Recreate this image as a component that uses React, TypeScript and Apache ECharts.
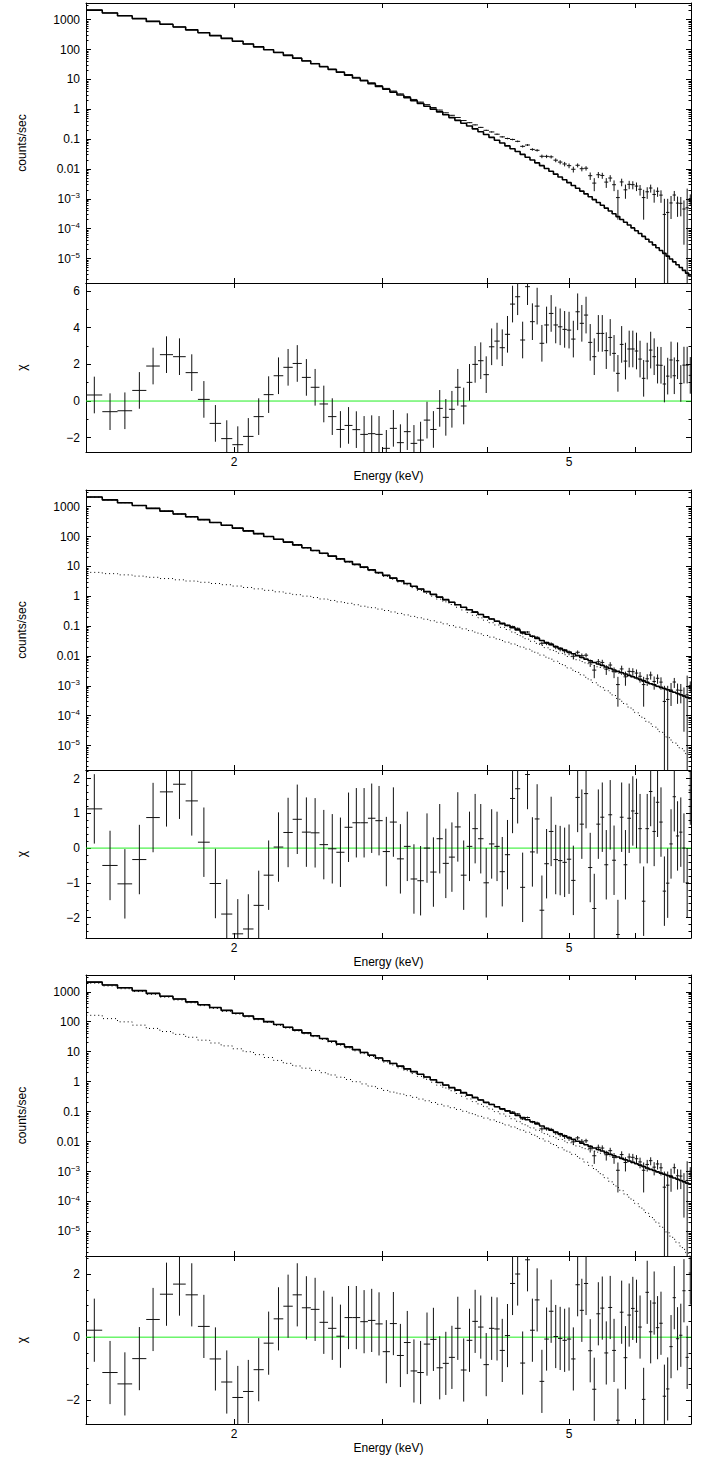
import React, { useEffect, useRef } from "react";
import * as echarts from "echarts";

// ---------- data ----------
const ENERGY_KEV = [
  1.365, 1.425, 1.484, 1.544, 1.603, 1.663, 1.723, 1.782, 1.842, 1.901,
  1.961, 2.021, 2.08, 2.14, 2.199, 2.259, 2.319, 2.378, 2.438, 2.497,
  2.557, 2.617, 2.676, 2.736, 2.795, 2.855, 2.915, 2.974, 3.034, 3.093,
  3.153, 3.213, 3.272, 3.332, 3.391, 3.451, 3.511, 3.57, 3.63, 3.689,
  3.749, 3.809, 3.868, 3.928, 3.987, 4.047, 4.107, 4.166, 4.226, 4.285,
  4.345, 4.405, 4.464, 4.524, 4.583, 4.643, 4.703, 4.762, 4.822, 4.881,
  4.941, 5.001, 5.06, 5.12, 5.179, 5.239, 5.299, 5.358, 5.418, 5.477,
  5.537, 5.597, 5.656, 5.716, 5.775, 5.835, 5.895, 5.954, 6.014, 6.073,
  6.133, 6.193, 6.252, 6.312, 6.371, 6.431, 6.491, 6.55, 6.61, 6.669,
  6.729, 6.789, 6.848, 6.908, 6.967,
];
const BIN_HALF_WIDTH_KEV = 0.0298;

const DATA_RATE = [
  2106, 1693, 1362, 1096, 882, 710, 572, 460, 369, 297,
  238, 191, 154, 125, 100.4, 81.0, 65.4, 52.6, 42.5, 34.3,
  27.5, 22.2, 17.9, 14.5, 11.75, 9.5, 7.69, 6.22, 5.0, 4.08,
  3.28, 2.67, 2.13, 1.74, 1.43, 1.145, 0.94, 0.761, 0.628, 0.53,
  0.419, 0.356, 0.3, 0.247, 0.197, 0.174, 0.146, 0.119, 0.105, 0.0974,
  0.0842, 0.0573, 0.0635, 0.0452, 0.0422, 0.0266, 0.0264, 0.0255, 0.0197, 0.017,
  0.0147, 0.0129, 0.00978, 0.0133, 0.0102, 0.0106, 0.00596, 0.00336, 0.00642, 0.00607,
  0.00363, 0.00497, 0.00297, 0.0011, 0.00368, 0.002, 0.00305, 0.00298, 0.00267, 0.00209,
  0.0011, 0.00172, 0.0023, 0.0014, 0.00179, 0.00133, 0.0003, 0.00035, 0.000727, 0.00134,
  0.00072, 0.000706, 0.000456, 0.0005, 0.00102,
];
const DATA_ERR = [
  0.92, 0.82, 0.74, 0.66, 0.59, 0.53, 0.48, 0.43, 0.38, 0.34,
  0.31, 0.28, 0.25, 0.22, 0.2, 0.18, 0.16, 0.145, 0.13, 0.117,
  0.105, 0.094, 0.085, 0.076, 0.068, 0.061, 0.055, 0.05, 0.045, 0.04,
  0.036, 0.033, 0.029, 0.027, 0.024, 0.022, 0.0193, 0.01754, 0.0159, 0.01444,
  0.0131, 0.01192, 0.01084, 0.00988, 0.00908, 0.00832, 0.00764, 0.00704, 0.00651, 0.00596,
  0.00547, 0.00502, 0.00463, 0.00428, 0.00394, 0.00364, 0.00334, 0.0031, 0.00288, 0.00268,
  0.00251, 0.00233, 0.00217, 0.00203, 0.00188, 0.00177, 0.00166, 0.00156, 0.00147, 0.00139,
  0.00131, 0.00123, 0.00116, 0.0009, 0.00105, 0.000996, 0.000947, 0.000899, 0.000853, 0.00081,
  0.0009, 0.000724, 0.000687, 0.000657, 0.000623, 0.000595, 0.0007, 0.00065, 0.000516, 0.000493,
  0.000471, 0.000447, 0.000427, 0.0017, 0.000388,
];

const MODEL_P1 = [
  2099, 1687, 1358, 1091, 877, 705, 567, 456, 366, 294,
  237, 190, 153, 123, 99.0, 79.6, 64.0, 51.4, 41.4, 33.3,
  26.7, 21.5, 17.3, 13.9, 11.2, 8.98, 7.22, 5.81, 4.67, 3.75,
  3.02, 2.43, 1.95, 1.57, 1.26, 1.01, 0.815, 0.655, 0.526, 0.424,
  0.34, 0.274, 0.22, 0.177, 0.142, 0.114, 0.0918, 0.0738, 0.0594, 0.0478,
  0.0384, 0.0308, 0.0248, 0.02, 0.016, 0.0129, 0.0104, 0.00834, 0.0067, 0.00539,
  0.00433, 0.00348, 0.0028, 0.00225, 0.00181, 0.00146, 0.00117, 9.4e-4, 7.56e-4, 6.08e-4,
  4.89e-4, 3.93e-4, 3.16e-4, 2.54e-4, 2.04e-4, 1.64e-4, 1.32e-4, 1.06e-4, 8.53e-5, 6.86e-5,
  5.51e-5, 4.43e-5, 3.56e-5, 2.86e-5, 2.3e-5, 1.85e-5, 1.49e-5, 1.2e-5, 9.62e-6, 7.73e-6,
  6.22e-6, 5.0e-6, 4.02e-6, 3.23e-6, 2.6e-6,
];

const MODEL_P2_TOTAL = [
  2105, 1693, 1363, 1096, 881, 709, 571, 459, 369, 297,
  239, 192, 155, 125, 100.6, 81.0, 65.3, 52.5, 42.4, 34.2,
  27.5, 22.2, 17.9, 14.5, 11.7, 9.45, 7.64, 6.18, 5.0, 4.05,
  3.29, 2.67, 2.16, 1.76, 1.43, 1.16, 0.935, 0.769, 0.632, 0.521,
  0.429, 0.355, 0.294, 0.244, 0.206, 0.173, 0.146, 0.124, 0.106, 0.0889,
  0.0748, 0.063, 0.0537, 0.0457, 0.0389, 0.0331, 0.0279, 0.024, 0.0207, 0.018,
  0.0157, 0.0136, 0.0118, 0.0103, 0.00885, 0.00782, 0.00689, 0.00607, 0.00541, 0.00483,
  0.00426, 0.00379, 0.00338, 0.00305, 0.00275, 0.00248, 0.00224, 0.00202, 0.00182, 0.00164,
  0.00147, 0.00131, 0.00118, 0.00108, 9.7e-4, 8.85e-4, 8.09e-4, 7.38e-4, 6.65e-4, 6.07e-4,
  5.55e-4, 5.0e-4, 4.56e-4, 4.11e-4, 3.76e-4,
];
const MODEL_P2_COMP_A = [
  2099, 1687, 1358, 1091, 877, 705, 567, 456, 366, 294,
  237, 190, 153, 123, 99.0, 79.6, 64.0, 51.4, 41.4, 33.3,
  26.7, 21.5, 17.3, 13.9, 11.2, 8.98, 7.22, 5.81, 4.67, 3.75,
  3.02, 2.43, 1.95, 1.57, 1.26, 1.01, 0.8, 0.65, 0.528, 0.429,
  0.348, 0.284, 0.231, 0.189, 0.157, 0.13, 0.109, 0.0911, 0.0771, 0.0635,
  0.0525, 0.0434, 0.0366, 0.0311, 0.0264, 0.0224, 0.0188, 0.0162, 0.014, 0.0124,
  0.011, 0.00963, 0.00845, 0.00748, 0.00649, 0.00589, 0.00532, 0.00478, 0.00435, 0.00396,
  0.00355, 0.00321, 0.00291, 0.00267, 0.00245, 0.00224, 0.00205, 0.00186, 0.00169, 0.00154,
  0.00139, 0.00124, 0.00113, 0.00104, 9.35e-4, 8.56e-4, 7.86e-4, 7.19e-4, 6.5e-4, 5.95e-4,
  5.45e-4, 4.92e-4, 4.49e-4, 4.06e-4, 3.72e-4,
];
const MODEL_P2_COMP_B = [
  6.31, 5.73, 5.21, 4.73, 4.32, 3.92, 3.56, 3.24, 2.94, 2.68,
  2.44, 2.2, 1.97, 1.77, 1.58, 1.41, 1.26, 1.13, 1.01, 0.906,
  0.811, 0.724, 0.649, 0.581, 0.52, 0.465, 0.416, 0.372, 0.333, 0.298,
  0.266, 0.237, 0.212, 0.19, 0.169, 0.151, 0.135, 0.119, 0.104, 0.092,
  0.0809, 0.0711, 0.0628, 0.0552, 0.0486, 0.0427, 0.0374, 0.0329, 0.0289, 0.0254,
  0.0223, 0.0196, 0.0171, 0.0146, 0.0125, 0.0107, 0.00914, 0.00782, 0.00667, 0.00561,
  0.00472, 0.00397, 0.00335, 0.00282, 0.00236, 0.00193, 0.00157, 0.00129, 0.00106, 8.67e-4,
  7.08e-4, 5.79e-4, 4.72e-4, 3.78e-4, 3.04e-4, 2.44e-4, 1.95e-4, 1.57e-4, 1.26e-4, 1.01e-4,
  8.11e-5, 6.5e-5, 5.32e-5, 4.33e-5, 3.52e-5, 2.86e-5, 2.32e-5, 1.89e-5, 1.53e-5, 1.25e-5,
  1.01e-5, 8.17e-6, 6.61e-6, 5.32e-6, 4.31e-6,
];

const MODEL_P3_TOTAL = [
  2105, 1693, 1363, 1096, 881, 709, 571, 459, 369, 297,
  239, 192, 155, 125, 100.6, 81.0, 65.3, 52.5, 42.4, 34.2,
  27.5, 22.2, 17.9, 14.5, 11.7, 9.45, 7.64, 6.18, 5.0, 4.05,
  3.29, 2.67, 2.16, 1.76, 1.43, 1.16, 0.935, 0.769, 0.632, 0.521,
  0.429, 0.355, 0.294, 0.244, 0.206, 0.173, 0.146, 0.124, 0.106, 0.0889,
  0.0748, 0.063, 0.0537, 0.0457, 0.0389, 0.0331, 0.0279, 0.024, 0.0207, 0.018,
  0.0157, 0.0136, 0.0118, 0.0103, 0.00885, 0.00782, 0.00689, 0.00607, 0.00541, 0.00483,
  0.00426, 0.00379, 0.00338, 0.00305, 0.00275, 0.00248, 0.00224, 0.00202, 0.00182, 0.00164,
  0.00147, 0.00131, 0.00118, 0.00108, 9.7e-4, 8.85e-4, 8.09e-4, 7.38e-4, 6.65e-4, 6.07e-4,
  5.55e-4, 5.0e-4, 4.56e-4, 4.11e-4, 3.76e-4,
];
const MODEL_P3_COMP_A = [
  1941, 1566, 1264, 1019, 821, 662, 533, 429, 345, 277,
  223, 180, 145, 117, 94.2, 75.9, 61.2, 49.2, 39.6, 31.8,
  25.5, 20.5, 16.5, 13.3, 10.7, 8.61, 6.94, 5.59, 4.49, 3.6,
  2.9, 2.33, 1.86, 1.5, 1.2, 0.959, 0.76, 0.615, 0.497, 0.403,
  0.326, 0.265, 0.215, 0.175, 0.145, 0.12, 0.0995, 0.0834, 0.0705, 0.0579,
  0.0477, 0.0393, 0.0331, 0.0284, 0.0243, 0.0208, 0.0175, 0.0152, 0.0133, 0.0118,
  0.0104, 0.00916, 0.00805, 0.00714, 0.00624, 0.00578, 0.00529, 0.00481, 0.00443, 0.00406,
  0.00366, 0.00332, 0.00301, 0.00276, 0.00252, 0.0023, 0.0021, 0.00191, 0.00173, 0.00157,
  0.00142, 0.00127, 0.00115, 0.00106, 9.51e-4, 8.7e-4, 7.97e-4, 7.29e-4, 6.58e-4, 6.02e-4,
  5.51e-4, 4.97e-4, 4.54e-4, 4.09e-4, 3.75e-4,
];
const MODEL_P3_COMP_B = [
  164, 127, 99.1, 76.9, 59.8, 47.1, 37.8, 30.3, 24.2, 19.5,
  15.6, 12.5, 9.98, 7.98, 6.4, 5.11, 4.08, 3.34, 2.81, 2.37,
  1.99, 1.67, 1.41, 1.18, 0.995, 0.838, 0.705, 0.593, 0.509, 0.447,
  0.391, 0.341, 0.299, 0.262, 0.23, 0.201, 0.175, 0.154, 0.135, 0.118,
  0.103, 0.0902, 0.0791, 0.0692, 0.0608, 0.0531, 0.0465, 0.0406, 0.0355, 0.031,
  0.0271, 0.0237, 0.0206, 0.0173, 0.0146, 0.0123, 0.0104, 0.00877, 0.0074, 0.00625,
  0.00527, 0.00444, 0.00375, 0.00316, 0.00261, 0.00204, 0.0016, 0.00126, 9.84e-4, 7.74e-4,
  6.05e-4, 4.74e-4, 3.72e-4, 2.91e-4, 2.28e-4, 1.78e-4, 1.39e-4, 1.09e-4, 8.51e-5, 6.67e-5,
  5.2e-5, 4.04e-5, 3.16e-5, 2.45e-5, 1.91e-5, 1.49e-5, 1.16e-5, 9.02e-6, 7.0e-6, 5.46e-6,
  4.24e-6, 3.27e-6, 2.52e-6, 1.95e-6, 1.5e-6,
];

const CHI_P1 = [
  0.33, -0.58, -0.53, 0.58, 1.91, 2.53, 2.42, 1.55, 0.09, -1.22,
  -2.05, -2.38, -1.93, -0.85, 0.35, 1.38, 1.84, 2.05, 1.29, 0.75,
  -0.16, -0.85, -1.55, -1.33, -1.56, -1.82, -1.78, -1.82, -2.58, -1.49,
  -2.27, -1.67, -2.31, -2.13, -1.04, -1.55, -0.4, -0.89, -0.45, 0.75,
  -0.27, 1.02, 2.0, 2.2, 1.44, 2.96, 3.27, 2.91, 3.64, 5.29,
  5.69, 3.33, 6.24, 4.33, 5.18, 3.15, 4.15, 4.78, 4.15, 4.05,
  3.91, 3.87, 3.38, 4.87, 4.24, 4.69, 3.2, 2.42, 3.69, 3.69,
  2.75, 3.47, 2.6, 1.51, 3.09, 2.18, 2.84, 2.84, 2.73, 2.29,
  1.24, 2.18, 2.78, 2.42, 1.96, 1.95, 0.93, 1.36, 2.24, 1.38,
  2.2, 0.96, 1.96, 1.96, 1.4,
];
const CHI_P2 = [
  1.13, -0.5, -1.03, -0.33, 0.88, 1.62, 1.84, 1.36, 0.17, -1.02,
  -1.9, -2.47, -2.33, -1.65, -0.78, 0.03, 0.45, 0.83, 0.46, 0.44,
  0.1, -0.02, -0.12, 0.6, 0.73, 0.73, 0.86, 0.79, -0.1, 0.75,
  -0.31, 0.05, -0.89, -0.94, 0.0, -0.69, 0.27, -0.44, -0.26, 0.61,
  -0.78, 0.05, 0.56, 0.27, -1.0, 0.12, 0.05, -0.68, -0.19, 1.43,
  1.71, -1.13, 2.12, -0.11, 0.84, -1.79, -0.45, 0.48, -0.33, -0.36,
  -0.41, -0.32, -0.93, 1.46, 0.69, 1.57, -0.56, -1.74, 0.69, 0.89,
  -0.48, 0.96, -0.35, -2.49, 0.89, -0.48, 0.86, 1.07, 1.0, 0.56,
  -1.53, 0.56, 1.63, 0.48, 1.32, 0.75, -1.24, -1.01, 0.12, 1.48,
  0.35, 0.46, 0.0, -1.0, 1.67,
];
const CHI_P3 = [
  0.22, -1.12, -1.48, -0.68, 0.56, 1.36, 1.68, 1.34, 0.34, -0.69,
  -1.42, -1.91, -1.72, -1.03, -0.19, 0.58, 0.98, 1.34, 0.93, 0.88,
  0.47, 0.28, 0.03, 0.62, 0.62, 0.49, 0.53, 0.42, -0.46, 0.43,
  -0.58, -0.17, -1.07, -1.12, -0.22, -0.07, -0.97, -0.83, -0.64, 0.28,
  -1.04, -0.1, 0.5, 0.32, -0.87, 0.28, 0.26, -0.42, 0.05, 1.7,
  2.0, -0.82, 2.45, 0.22, 1.18, -1.4, -0.06, 0.82, 0.02, -0.04,
  -0.1, -0.06, -0.69, 1.66, 0.85, 1.7, -0.43, -1.65, 0.74, 0.92,
  -0.5, 0.94, -0.42, -2.63, 0.79, -0.65, 0.7, 0.91, 0.82, 0.32,
  -1.97, 1.42, 0.17, 1.08, 0.3, 0.44, -1.87, -1.64, -0.3, 1.25,
  -0.05, 0.06, 1.47, -0.64, 2.03,
];

const ENERGY_TICKS = [2, 3, 4, 5, 6];
const ENERGY_LABELS = [2, 5];
const RATE_DECADES = [-5, -4, -3, -2, -1, 0, 1, 2, 3];

// ---------- layout & style ----------
const FONT = "'Liberation Sans', Arial, Helvetica, sans-serif";
const X_MIN = Math.log10(1.3343);
const X_MAX = Math.log10(6.981);
const RATE_MIN = -5.82;
const RATE_MAX = 3.56;
const LEFT = 86;
const WIDTH = 605;

const PANELS = [
  {
    top: 3, height: 280, resTop: 283, resHeight: 169,
    chiMin: -2.78, chiMax: 6.44, chiMajor: [-2, 0, 2, 4, 6], chiMinor: [-1, 1, 3, 5],
    model: MODEL_P1, compA: null, compB: null, chi: CHI_P1,
  },
  {
    top: 490, height: 280, resTop: 770, resHeight: 168,
    chiMin: -2.59, chiMax: 2.25, chiMajor: [-2, -1, 0, 1, 2],
    chiMinor: [-2.4, -2.2, -1.8, -1.6, -1.4, -1.2, -0.8, -0.6, -0.4, -0.2, 0.2, 0.4, 0.6, 0.8, 1.2, 1.4, 1.6, 1.8, 2.2],
    model: MODEL_P2_TOTAL, compA: MODEL_P2_COMP_A, compB: MODEL_P2_COMP_B, chi: CHI_P2,
  },
  {
    top: 975, height: 281, resTop: 1256, resHeight: 168,
    chiMin: -2.75, chiMax: 2.57, chiMajor: [-2, 0, 2], chiMinor: [-2.5, -1.5, -1, -0.5, 0.5, 1, 1.5, 2.5],
    model: MODEL_P3_TOTAL, compA: MODEL_P3_COMP_A, compB: MODEL_P3_COMP_B, chi: CHI_P3,
  },
];

const RATE_MINOR: number[] = [];
for (let n = -6; n <= 3; n++) {
  for (let k = 2; k <= 9; k++) {
    const v = n + Math.log10(k);
    if (v > RATE_MIN && v < RATE_MAX) RATE_MINOR.push(v);
  }
}

const lg = (v: number) => Math.log10(v);
const minus = (v: number) => (v < 0 ? "\u2212" + Math.abs(v) : String(v));

const rateLabel = (v: number) => {
  const n = Math.round(v);
  if (n >= 0) return String(Math.pow(10, n));
  if (n === -1) return "0.1";
  if (n === -2) return "0.01";
  return "{b|10}{s|\u2212" + -n + "}";
};

const renderCross = (_params: any, api: any) => {
  const c = api.value(0), v = api.value(1), lo = api.value(2), hi = api.value(3);
  const l = api.value(4), r = api.value(5);
  const a = api.coord([l, v]);
  const b = api.coord([r, v]);
  const t = api.coord([c, hi]);
  const d = api.coord([c, lo]);
  const style = { stroke: "#111", lineWidth: 1 };
  return {
    type: "group",
    children: [
      { type: "line", shape: { x1: a[0], y1: a[1], x2: b[0], y2: b[1] }, style },
      { type: "line", shape: { x1: t[0], y1: t[1], x2: d[0], y2: d[1] }, style },
    ],
  };
};

const stepPoints = (values: number[]) => {
  const pts: number[][] = [];
  ENERGY_KEV.forEach((e, i) => {
    pts.push([lg(e - BIN_HALF_WIDTH_KEV), lg(values[i])]);
    pts.push([lg(e + BIN_HALF_WIDTH_KEV), lg(values[i])]);
  });
  return pts;
};

const blackLine = { show: true, onZero: false, lineStyle: { color: "#000", width: 1 } };

function buildOption() {
  const grid: any[] = [];
  const xAxis: any[] = [];
  const yAxis: any[] = [];
  const series: any[] = [];

  const addGrid = (top: number, height: number) => {
    grid.push({ left: LEFT, width: WIDTH, top, height, show: false });
    return grid.length - 1;
  };
  const energyAxis = (gridIndex: number, position: string, labels: boolean) => ({
    type: "value", gridIndex, position, min: X_MIN, max: X_MAX,
    axisLine: blackLine,
    axisTick: { show: true, inside: true, length: 5, customValues: ENERGY_TICKS.map(lg), lineStyle: { color: "#000" } },
    axisLabel: labels
      ? { show: true, customValues: ENERGY_LABELS.map(lg), formatter: (v: number) => String(Math.round(Math.pow(10, v))), fontSize: 12, color: "#000", fontFamily: FONT, margin: 4 }
      : { show: false },
    splitLine: { show: false },
    ...(labels ? { name: "Energy (keV)", nameLocation: "middle", nameGap: 18, nameTextStyle: { fontSize: 12, color: "#000", fontFamily: FONT } } : {}),
  });
  const hiddenX = (gridIndex: number) => ({ type: "value", gridIndex, min: X_MIN, max: X_MAX, show: false, axisLine: { onZero: false } });
  const minorY = (gridIndex: number, position: string, min: number, max: number, ticks: number[]) => ({
    type: "value", gridIndex, position, min, max,
    axisLine: { show: false, onZero: false },
    axisTick: { show: true, inside: true, length: 2.5, customValues: ticks, lineStyle: { color: "#000" } },
    axisLabel: { show: false },
    splitLine: { show: false },
  });

  PANELS.forEach((p) => {
    // ----- spectrum panel -----
    const g = addGrid(p.top, p.height);
    const xi = xAxis.length;
    xAxis.push(energyAxis(g, "bottom", false), energyAxis(g, "top", false));
    const yi = yAxis.length;
    yAxis.push(
      {
        type: "value", gridIndex: g, position: "left", min: RATE_MIN, max: RATE_MAX,
        axisLine: blackLine,
        axisTick: { show: true, inside: true, length: 5, customValues: RATE_DECADES, lineStyle: { color: "#000" } },
        axisLabel: {
          show: true, customValues: RATE_DECADES, formatter: rateLabel, fontSize: 12, color: "#000", fontFamily: FONT, margin: 6,
          rich: {
            b: { fontSize: 12, fontFamily: FONT, color: "#000" },
            s: { fontSize: 8, fontFamily: FONT, color: "#000", verticalAlign: "top", padding: [0, 0, 6, 0] },
          },
        },
        splitLine: { show: false },
        name: "counts/sec", nameLocation: "middle", nameGap: 58,
        nameTextStyle: { fontSize: 12, color: "#000", fontFamily: FONT },
      },
      {
        type: "value", gridIndex: g, position: "right", min: RATE_MIN, max: RATE_MAX,
        axisLine: blackLine,
        axisTick: { show: true, inside: true, length: 5, customValues: RATE_DECADES, lineStyle: { color: "#000" } },
        axisLabel: { show: false }, splitLine: { show: false },
      }
    );
    const gm = addGrid(p.top, p.height);
    xAxis.push(hiddenX(gm));
    yAxis.push(minorY(gm, "left", RATE_MIN, RATE_MAX, RATE_MINOR), minorY(gm, "right", RATE_MIN, RATE_MAX, RATE_MINOR));

    const dataItems = ENERGY_KEV.map((e, i) => {
      const v = DATA_RATE[i], s = DATA_ERR[i];
      return [lg(e), lg(v), v - s > 0 ? lg(v - s) : RATE_MIN - 10, lg(v + s), lg(e - BIN_HALF_WIDTH_KEV), lg(e + BIN_HALF_WIDTH_KEV)];
    });
    series.push({
      type: "custom", xAxisIndex: xi, yAxisIndex: yi, renderItem: renderCross, data: dataItems,
      encode: { x: 0, y: 1 }, clip: true, silent: true, z: 2,
    });
    series.push({
      type: "line", xAxisIndex: xi, yAxisIndex: yi, data: stepPoints(p.model), symbol: "none", showSymbol: false,
      lineStyle: { color: "#000", width: 1.6 }, clip: true, silent: true, z: 3,
    });
    [p.compA, p.compB].forEach((comp) => {
      if (!comp) return;
      series.push({
        type: "line", xAxisIndex: xi, yAxisIndex: yi, data: stepPoints(comp), symbol: "none", showSymbol: false,
        lineStyle: { color: "#000", width: 1, type: [1, 3] }, clip: true, silent: true, z: 3,
      });
    });

    // ----- residual panel -----
    const r = addGrid(p.resTop, p.resHeight);
    const rxi = xAxis.length;
    xAxis.push(energyAxis(r, "bottom", true), energyAxis(r, "top", false));
    const ryi = yAxis.length;
    yAxis.push(
      {
        type: "value", gridIndex: r, position: "left", min: p.chiMin, max: p.chiMax,
        axisLine: blackLine,
        axisTick: { show: true, inside: true, length: 5, customValues: p.chiMajor, lineStyle: { color: "#000" } },
        axisLabel: { show: true, customValues: p.chiMajor, formatter: minus, fontSize: 12, color: "#000", fontFamily: FONT, margin: 6 },
        splitLine: { show: false },
        name: "\u03c7", nameLocation: "middle", nameGap: 58,
        nameTextStyle: { fontSize: 12, color: "#000", fontFamily: FONT },
      },
      {
        type: "value", gridIndex: r, position: "right", min: p.chiMin, max: p.chiMax,
        axisLine: blackLine,
        axisTick: { show: true, inside: true, length: 5, customValues: p.chiMajor, lineStyle: { color: "#000" } },
        axisLabel: { show: false }, splitLine: { show: false },
      }
    );
    const rm = addGrid(p.resTop, p.resHeight);
    xAxis.push(hiddenX(rm));
    yAxis.push(minorY(rm, "left", p.chiMin, p.chiMax, p.chiMinor), minorY(rm, "right", p.chiMin, p.chiMax, p.chiMinor));

    series.push({
      type: "line", xAxisIndex: rxi, yAxisIndex: ryi, data: [[X_MIN, 0], [X_MAX, 0]], symbol: "none",
      lineStyle: { color: "#22ee22", width: 1 }, silent: true, z: 1,
    });
    const chiItems = ENERGY_KEV.map((e, i) => {
      const c = p.chi[i];
      return [lg(e), c, c - 1, c + 1, lg(e - BIN_HALF_WIDTH_KEV), lg(e + BIN_HALF_WIDTH_KEV)];
    });
    series.push({
      type: "custom", xAxisIndex: rxi, yAxisIndex: ryi, renderItem: renderCross, data: chiItems,
      encode: { x: 0, y: 1 }, clip: true, silent: true, z: 2,
    });
  });

  return { animation: false, backgroundColor: "#fff", grid, xAxis, yAxis, series };
}

export default function App() {
  const ref = useRef<HTMLDivElement>(null);
  useEffect(() => {
    if (!ref.current) return;
    const chart = echarts.init(ref.current, null, { renderer: "svg" });
    chart.setOption(buildOption() as any);
    return () => chart.dispose();
  }, []);
  return (
    <div
      ref={ref}
      style={{ position: "absolute", left: 0, top: 0, width: 707, height: 1461, background: "#fff" }}
    />
  );
}
